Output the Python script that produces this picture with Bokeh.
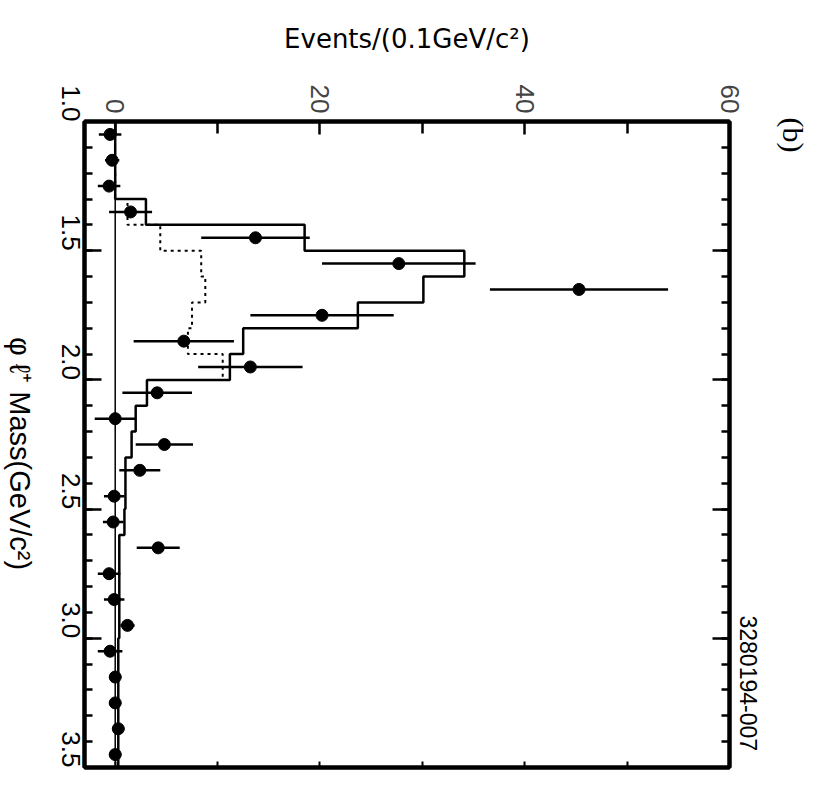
import math
from bokeh.plotting import figure
from bokeh.layouts import row
from bokeh.core.properties import value
from bokeh.models import (Range1d, LinearAxis, FixedTicker, SingleIntervalTicker, Span,
                          Title, ColumnDataSource, PrintfTickFormatter, CustomJSTickFormatter)
from bokeh.embed import file_html
from bokeh.resources import INLINE

# ---------------- data ----------------
# phi l+ mass bins (GeV/c^2), bin centres, width 0.1
mass_centers = [1.05, 1.15, 1.25, 1.35, 1.45, 1.55, 1.65, 1.75, 1.85, 1.95,
                2.05, 2.15, 2.25, 2.35, 2.45, 2.55, 2.65, 2.75, 2.85, 2.95,
                3.05, 3.15, 3.25, 3.35, 3.45]
bin_half = 0.05

# measured events per bin and their errors
data_events = [-0.5, -0.3, -0.6, 1.5, 13.7, 27.7, 45.3, 20.2, 6.7, 13.2,
               4.1, 0.0, 4.8, 2.4, -0.1, -0.2, 4.2, -0.6, -0.1, 1.2,
               -0.5, 0.0, 0.0, 0.3, 0.0]
data_errors = [1.1, 0.7, 1.1, 2.1, 5.3, 7.5, 8.7, 7.0, 4.9, 5.1,
               3.4, 2.0, 2.8, 2.0, 1.0, 1.0, 2.1, 1.1, 1.0, 0.7,
               1.2, 0.6, 0.6, 0.6, 0.6]

# solid histogram (prediction)
solid_hist = [0.0, 0.0, 0.0, 3.0, 18.5, 34.1, 30.1, 23.7, 12.5, 11.2,
              3.1, 2.0, 1.6, 1.0, 1.0, 0.9, 0.4, 0.4, 0.4, 0.4,
              0.3, 0.3, 0.3, 0.3, 0.3]

# dotted histogram (bins 1.2 - 2.0)
dotted_centers = [1.25, 1.35, 1.45, 1.55, 1.65, 1.75, 1.85, 1.95]
dotted_hist = [0.0, 1.2, 4.4, 8.4, 8.8, 7.5, 7.1, 10.5]

events_ticks = [0, 20, 40, 60]
events_minor = [10, 30, 50]
events_labels = {0: "0", 20: "20", 40: "40", 60: "60"}

mass_label = "φ ℓ⁺ Mass(GeV/c²)"
mass_label_pos = 2.285          # position of the label's centre along the mass axis
events_label = "Events/(0.1GeV/c²)"

FONT = "Liberation Sans"
STRIP_W = 36

def step_outline(centers, vals):
    xs, ys = [], []
    for c, v in zip(centers, vals):
        xs += [v, v]
        ys += [c - bin_half, c + bin_half]
    return xs, ys

mass_range = Range1d(3.5, 1.0)

# ---------------- left strip holding the rotated mass label ----------------
strip = figure(width=STRIP_W, height=795, x_range=Range1d(0, STRIP_W), y_range=mass_range,
               output_backend="svg", toolbar_location=None,
               min_border=0, min_border_left=0, min_border_right=0,
               min_border_top=121, min_border_bottom=28)
strip.axis.visible = False
strip.grid.visible = False
strip.outline_line_color = None
strip.text(x=[19], y=[mass_label_pos], text=[mass_label], angle=-math.pi / 2,
           text_align="center", text_baseline="middle",
           text_font=value(FONT), text_font_size="29px", text_color="black")

# ---------------- main figure ----------------
p = figure(width=819 - STRIP_W, height=795, x_range=Range1d(-3, 60), y_range=mass_range,
           x_axis_location="above", y_axis_location="left",
           output_backend="svg", toolbar_location=None,
           min_border_left=84 - STRIP_W, min_border_right=89, min_border_top=121,
           min_border_bottom=28)
p.xgrid.visible = False
p.ygrid.visible = False
p.outline_line_color = "black"
p.outline_line_width = 4
p.background_fill_color = "white"
p.border_fill_color = "white"

# left (mass) axis
ya = p.yaxis[0]
ya.ticker = SingleIntervalTicker(interval=0.5, num_minor_ticks=5)
ya.formatter = PrintfTickFormatter(format="%.1f")
ya.major_label_orientation = -math.pi / 2
ya.major_label_text_font = FONT
ya.major_label_text_font_size = "26px"
ya.major_label_text_color = "black"
ya.major_label_standoff = 14
ya.major_tick_in = 17
ya.major_tick_out = 0
ya.minor_tick_in = 8
ya.minor_tick_out = 0
ya.major_tick_line_width = 2.5
ya.minor_tick_line_width = 2.5
ya.axis_line_width = 4

# top (events) axis
xa = p.xaxis[0]
xa.ticker = FixedTicker(ticks=events_ticks, minor_ticks=events_minor)
xa.major_label_overrides = events_labels
xa.major_label_orientation = -math.pi / 2
xa.major_label_text_font = FONT
xa.major_label_text_font_size = "26px"
xa.major_label_standoff = 8
xa.major_tick_in = 13
xa.major_tick_out = 0
xa.minor_tick_in = 12
xa.minor_tick_out = 0
xa.major_tick_line_width = 2.5
xa.minor_tick_line_width = 2.5
xa.axis_line_width = 4
xa.axis_label = events_label
xa.axis_label_text_font = "DejaVu Sans"
xa.axis_label_text_font_size = "26px"
xa.axis_label_text_font_style = "normal"
xa.axis_label_text_color = "black"
xa.axis_label_standoff = 28

blank = CustomJSTickFormatter(code="return ''")

ra = LinearAxis(ticker=SingleIntervalTicker(interval=0.5, num_minor_ticks=5), formatter=blank,
                major_tick_in=17, major_tick_out=0, minor_tick_in=8, minor_tick_out=0,
                major_label_standoff=0,
                major_tick_line_width=2.5, minor_tick_line_width=2.5, axis_line_width=4)
p.add_layout(ra, "right")

ba = LinearAxis(ticker=FixedTicker(ticks=[0, 10, 20, 30, 40, 50, 60]), formatter=blank,
                major_tick_in=6, major_tick_out=0, minor_tick_in=0, minor_tick_out=0,
                major_label_standoff=0, major_tick_line_width=2, axis_line_width=4)
p.add_layout(ba, "below")

# side texts
p.add_layout(Title(text="3280194-007", align="left", offset=494, standoff=20,
                   text_font=FONT, text_font_size="23px", text_font_style="normal",
                   text_color="black"), "right")
p.add_layout(Title(text="(b)", align="left", offset=-4, standoff=16,
                   text_font="Liberation Serif", text_font_size="30px",
                   text_font_style="normal", text_color="black"), "right")

# zero line
p.add_layout(Span(location=0, dimension="height", line_color="black", line_width=1.5))

# histograms
dx, dy = step_outline(dotted_centers, dotted_hist)
p.line(dx, dy, line_color="black", line_width=2, line_dash="3 4")
sx, sy = step_outline(mass_centers, solid_hist)
p.line(sx, sy, line_color="black", line_width=2.5)

# data points with error bars
src = ColumnDataSource(dict(
    m=mass_centers, ev=data_events,
    lo=[e - s for e, s in zip(data_events, data_errors)],
    hi=[e + s for e, s in zip(data_events, data_errors)],
))
p.segment(x0="lo", x1="hi", y0="m", y1="m", source=src, line_color="black", line_width=2.5)
p.scatter(x="ev", y="m", source=src, size=12, marker="circle",
          fill_color="black", line_color="black")

layout = row(strip, p, spacing=0)
open("out.html", "w").write(file_html(layout, INLINE))
